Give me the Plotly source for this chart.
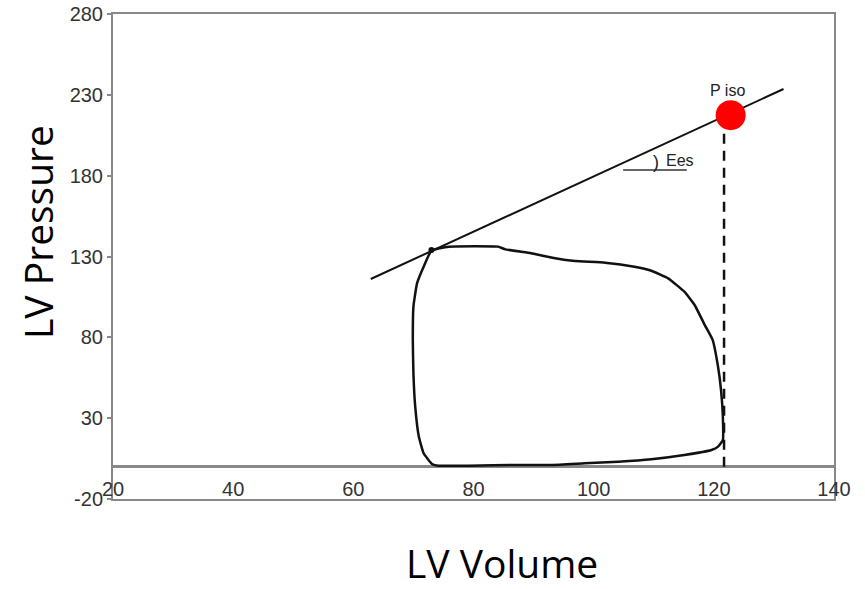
import plotly.graph_objects as go

# PV loop (LV volume, LV pressure), traced clockwise from the end-systolic corner
loop_volume = [73.0, 75.9, 84.1, 85.3, 89.6, 93.6, 96.9, 101.9, 106.8, 109.6, 112.4,
               115.1, 116.8, 118.5, 119.8, 120.7, 121.2, 121.5, 121.5, 120.7, 119.6,
               115.1, 109.6, 104.1, 98.5, 93.0, 87.5, 79.2, 74.2, 73.1, 71.7, 70.9,
               70.3, 70.0, 69.9, 70.0, 70.6, 71.7, 73.0]
loop_pressure = [133.6, 136.1, 136.1, 134.4, 132.0, 128.9, 127.2, 126.2, 123.7, 121.2, 116.5,
                 108.2, 100.0, 87.6, 78.4, 61.8, 47.4, 30.9, 16.5, 12.4, 10.3,
                 7.2, 4.6, 3.1, 2.1, 1.1, 1.1, 0.6, 0.6, 1.7, 8.3, 18.6,
                 37.1, 57.8, 78.4, 98.9, 113.4, 123.7, 133.6]

# End-systolic pressure-volume relationship line
espvr_volume = [62.9, 131.6]
espvr_pressure = [116.1, 233.6]

# End-systolic corner point
es_volume = [73.0]
es_pressure = [134.0]

# Isovolumic pressure point and its volume marker
piso_volume = [122.8]
piso_pressure = [217.4]
dash_volume = [121.7, 121.7]
dash_pressure = [0, 217.4]

# Ees slope reference line
ees_volume = [104.9, 115.5]
ees_pressure = [183.5, 183.5]

x_ticks = [20, 40, 60, 80, 100, 120, 140]
y_ticks = [-20, 30, 80, 130, 180, 230, 280]
y_tick_text = ["-20", "30", "80", "130", "180", "230", "280"]

fig = go.Figure()
fig.add_trace(go.Scatter(x=dash_volume, y=dash_pressure, mode="lines",
                         line=dict(color="#111111", width=2.5, dash="10px,7px"),
                         hoverinfo="skip", showlegend=False))
fig.add_trace(go.Scatter(x=espvr_volume, y=espvr_pressure, mode="lines",
                         line=dict(color="#111111", width=2), showlegend=False))
fig.add_trace(go.Scatter(x=loop_volume, y=loop_pressure, mode="lines",
                         line=dict(color="#111111", width=2.5, shape="spline", smoothing=0.4),
                         showlegend=False))
fig.add_trace(go.Scatter(x=ees_volume, y=ees_pressure, mode="lines",
                         line=dict(color="#333333", width=1.5), showlegend=False))
fig.add_trace(go.Scatter(x=es_volume, y=es_pressure, mode="markers",
                         marker=dict(color="#111111", size=6), showlegend=False))
fig.add_trace(go.Scatter(x=piso_volume, y=piso_pressure, mode="markers",
                         marker=dict(color="#ff0000", size=30), showlegend=False))

tick_font = dict(family="Liberation Sans, Arial, sans-serif", size=20, color="#333333")
small_font = dict(family="Liberation Sans, Arial, sans-serif", size=16, color="#222222")

fig.add_annotation(x=122.2, y=232.9, text="P iso", showarrow=False, font=small_font)
fig.add_annotation(x=114.4, y=189.6, text="Ees", showarrow=False, font=small_font)
fig.add_annotation(x=110.3, y=188.5, text=")", showarrow=False, font=dict(
    family="Liberation Sans, Arial, sans-serif", size=18, color="#222222"))

title_font = dict(family="Open Sans, sans-serif", size=39, color="#000000")
fig.add_annotation(xref="paper", yref="paper", x=0.5395, y=-0.131, text="LV Volume",
                   showarrow=False, font=title_font, xanchor="center", yanchor="middle")
fig.add_annotation(xref="paper", yref="paper", x=-0.1054, y=0.5505, text="LV Pressure",
                   showarrow=False, font=title_font, xanchor="center", yanchor="middle",
                   textangle=-90)

fig.update_layout(
    width=865, height=589,
    margin=dict(l=113, r=31, t=14, b=90),
    paper_bgcolor="white", plot_bgcolor="white",
    xaxis=dict(range=[20, 140], tickvals=x_ticks, showgrid=False, zeroline=False,
               showline=True, linecolor="#888888", linewidth=2, mirror=True,
               ticks="", ticklabelposition="inside", ticklabeloverflow="allow",
               tickfont=tick_font, automargin=False),
    yaxis=dict(range=[-20, 280], tickvals=y_ticks, ticktext=y_tick_text, showgrid=False,
               zeroline=True, zerolinecolor="#888888", zerolinewidth=2.5,
               showline=True, linecolor="#888888", linewidth=2, mirror=True,
               ticks="outside", ticklen=4, tickcolor="#888888", tickwidth=1.5,
               tickfont=tick_font, automargin=False),
)

fig.write_html("out.html", config={"displayModeBar": False},
               post_script="document.body.style.margin='0';")
